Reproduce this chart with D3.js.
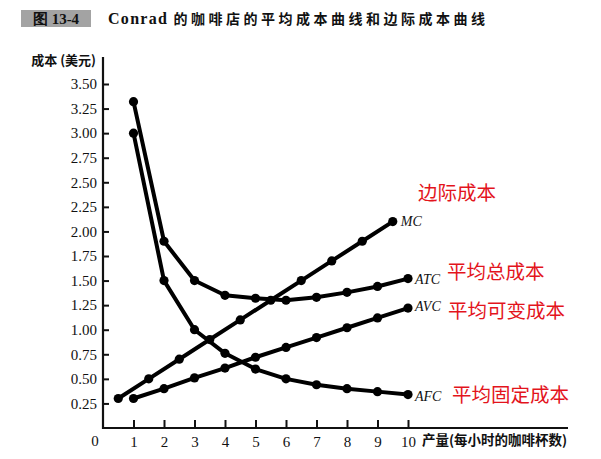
<!DOCTYPE html>
<html>
<head>
<meta charset="utf-8">
<style>
    body { margin: 0; background: #fff; }
    svg { display: block; }
    .tick text { font-family: "Liberation Serif", serif; font-size: 15px; fill: #111; }
    .cn { font-family: "Noto Sans CJK SC", sans-serif; }
</style>
</head>
<body>
<svg id="chart" width="601" height="459"></svg>
<script src="https://d3js.org/d3.v7.min.js"></script>
<script>
    // values
    let qty = [1, 2, 3, 4, 5, 6, 7, 8, 9, 10];
    let mcQty = [0.5, 1.5, 2.5, 3.5, 4.5, 5.5, 6.5, 7.5, 8.5, 9.5];
    let mc  = [0.30, 0.50, 0.70, 0.90, 1.10, 1.30, 1.50, 1.70, 1.90, 2.10];
    let atc = [3.32, 1.90, 1.50, 1.35, 1.32, 1.30, 1.33, 1.38, 1.44, 1.52];
    let avc = [0.30, 0.40, 0.51, 0.61, 0.72, 0.82, 0.92, 1.02, 1.12, 1.22];
    let afc = [3.00, 1.50, 1.00, 0.76, 0.60, 0.50, 0.44, 0.40, 0.37, 0.34];
    let yTicks = [0.25, 0.5, 0.75, 1, 1.25, 1.5, 1.75, 2, 2.25, 2.5, 2.75, 3, 3.25, 3.5];
    let xTicks = [1, 2, 3, 4, 5, 6, 7, 8, 9, 10];
    let curveNames = ["MC", "ATC", "AVC", "AFC"];
    let curveNamesCn = ["边际成本", "平均总成本", "平均可变成本", "平均固定成本"];

    let svg = d3.select("#chart");

    let x = d3.scaleLinear().domain([0, 10]).range([103, 408]);
    let y = d3.scaleLinear().domain([0, 3.5]).range([428, 84]);

    // title
    svg.append("rect")
        .attr("x", 21).attr("y", 10).attr("width", 70).attr("height", 17)
        .attr("fill", "#a3a3a3");
    svg.append("text")
        .attr("x", 56).attr("y", 23.5)
        .attr("text-anchor", "middle")
        .attr("font-family", "'Liberation Serif', serif")
        .attr("font-weight", "bold").attr("font-size", 15)
        .attr("fill", "#111")
        .text("图 13-4");
    let title = svg.append("text")
        .attr("x", 108).attr("y", 24)
        .attr("font-weight", "bold")
        .attr("fill", "#111");
    title.append("tspan")
        .attr("font-family", "'Liberation Serif', serif")
        .attr("font-size", 16).attr("letter-spacing", 1.3)
        .text("Conrad ");
    title.append("tspan")
        .attr("class", "cn")
        .attr("font-size", 14).attr("letter-spacing", 3.5)
        .text("的咖啡店的平均成本曲线和边际成本曲线");

    // axes
    let yAxis = d3.axisLeft(y)
        .tickValues(yTicks)
        .tickSizeInner(-6)
        .tickSizeOuter(0)
        .tickPadding(6)
        .tickFormat(d3.format(".2f"));
    let gy = svg.append("g").attr("transform", "translate(" + x(0) + ",0)").call(yAxis);
    gy.select(".domain").remove();
    gy.selectAll(".tick line").attr("stroke", "#111").attr("stroke-width", 2);

    let xAxis = d3.axisBottom(x)
        .tickValues(xTicks)
        .tickSizeInner(-8)
        .tickSizeOuter(0)
        .tickPadding(8);
    let gx = svg.append("g").attr("transform", "translate(0," + y(0) + ")").call(xAxis);
    gx.select(".domain").remove();
    gx.selectAll(".tick line").attr("stroke", "#111").attr("stroke-width", 2);

    svg.append("line")
        .attr("x1", x(0)).attr("x2", x(0))
        .attr("y1", y(0) + 1).attr("y2", 57)
        .attr("stroke", "#111").attr("stroke-width", 2.2);
    svg.append("line")
        .attr("x1", x(0) - 1).attr("x2", 568)
        .attr("y1", y(0)).attr("y2", y(0))
        .attr("stroke", "#111").attr("stroke-width", 2.2);

    svg.append("text")
        .attr("x", x(0) - 8).attr("y", y(0) + 18)
        .attr("text-anchor", "middle")
        .attr("font-family", "'Liberation Serif', serif").attr("font-size", 15)
        .attr("fill", "#111")
        .text("0");
    svg.append("text")
        .attr("class", "cn")
        .attr("x", 96).attr("y", 65)
        .attr("text-anchor", "end")
        .attr("font-size", 13).attr("font-weight", "bold")
        .attr("fill", "#111")
        .text("成本 (美元)");
    svg.append("text")
        .attr("class", "cn")
        .attr("x", 422).attr("y", 445)
        .attr("font-size", 13.5).attr("font-weight", "bold")
        .attr("fill", "#111")
        .text("产量(每小时的咖啡杯数)");

    // curves
    let series = [
        { name: curveNames[0], xs: mcQty, ys: mc },
        { name: curveNames[1], xs: qty, ys: atc },
        { name: curveNames[2], xs: qty, ys: avc },
        { name: curveNames[3], xs: qty, ys: afc }
    ];
    let line = d3.line().x((d) => x(d[0])).y((d) => y(d[1]));

    for (let s of series) {
        let pts = s.xs.map((q, i) => [q, s.ys[i]]);
        let g = svg.append("g");
        g.append("path")
            .attr("d", line(pts))
            .attr("fill", "none")
            .attr("stroke", "#000")
            .attr("stroke-width", 4)
            .attr("stroke-linejoin", "round");
        g.selectAll("circle").data(pts).enter()
            .append("circle")
            .attr("cx", (d) => x(d[0]))
            .attr("cy", (d) => y(d[1]))
            .attr("r", 4.6)
            .attr("fill", "#000");
    }

    // curve labels
    let labelPos = [
        { dx: 8, dy: 4 },
        { dx: 7, dy: 5 },
        { dx: 7, dy: 3 },
        { dx: 7, dy: 6 }
    ];
    series.forEach((s, i) => {
        let last = s.xs.length - 1;
        svg.append("text")
            .attr("x", x(s.xs[last]) + labelPos[i].dx)
            .attr("y", y(s.ys[last]) + labelPos[i].dy)
            .attr("font-family", "'Liberation Serif', serif")
            .attr("font-style", "italic")
            .attr("font-size", 14)
            .attr("fill", "#111")
            .text(s.name);
    });

    let cnPos = [[418, 200], [447, 279], [448, 318], [452, 402]];
    curveNamesCn.forEach((t, i) => {
        svg.append("text")
            .attr("class", "cn")
            .attr("x", cnPos[i][0]).attr("y", cnPos[i][1])
            .attr("font-size", 19.5)
            .attr("fill", "#e3141c")
            .text(t);
    });
</script>
</body>
</html>
